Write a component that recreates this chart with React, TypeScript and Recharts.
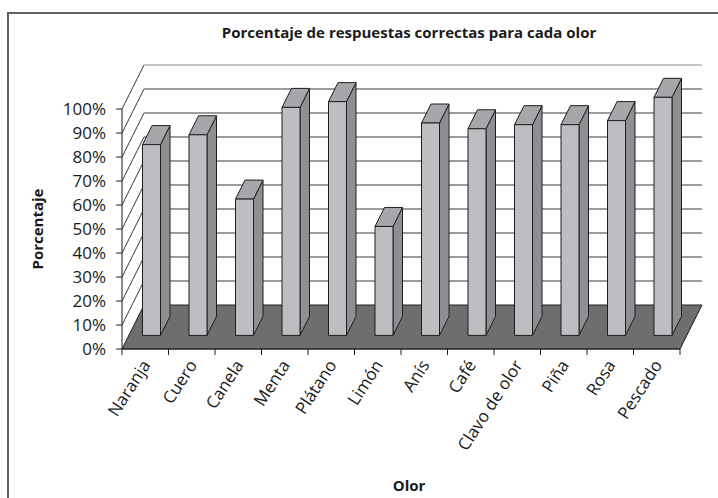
import { BarChart, Bar, XAxis, YAxis, CartesianGrid } from 'recharts'

// data (percent of correct answers per smell)
const olores = ['Naranja', 'Cuero', 'Canela', 'Menta', 'Plátano', 'Limón', 'Anís', 'Café', 'Clavo de olor', 'Piña', 'Rosa', 'Pescado']
const porcentajes = [79.5, 83.6, 56.8, 95, 97.4, 45.4, 88.5, 86.1, 87.8, 87.8, 89.5, 99.2]
const yTicks = [0, 10, 20, 30, 40, 50, 60, 70, 80, 90, 100]

const data = olores.map((olor, i) => ({ olor, valor: porcentajes[i] }))

// layout / fake-3D constants
const W = 718
const H = 498
const PLOT_LEFT = 122
const PLOT_RIGHT = 680
const PLOT_TOP = 109
const PLOT_BOTTOM = 349
const BAND = (PLOT_RIGHT - PLOT_LEFT) / olores.length
const DX = 22 // floor depth, back wall offset
const DY = 44
const FX = 6.5 // bar front face offset into the floor
const FY = -13.6
const BDX = 9.5 // bar depth
const BDY = 19

const FONT = '"Open Sans", sans-serif'
const TXT = '#1a1a1a'
const EDGE = '#1e1e1e'

function GridLine(props: any) {
  const { x1, y1, x2, y2 } = props
  if (y1 >= PLOT_BOTTOM - 0.5) {
    // floor
    const pts = `${x1},${y1} ${x2},${y2} ${x2 + DX},${y2 - DY} ${x1 + DX},${y1 - DY}`
    return <polygon points={pts} fill="#6e6e6e" stroke={EDGE} strokeWidth={1} />
  }
  const top = y1 <= PLOT_TOP + 0.5
  return (
    <g>
      <line x1={x1} y1={y1} x2={x1 + DX} y2={y1 - DY} stroke="#3a3a3a" strokeWidth={1} />
      <line x1={x1 + DX} y1={y1 - DY} x2={x2 + DX} y2={y2 - DY} stroke={top ? '#8a8a8a' : '#3a3a3a'} strokeWidth={1} />
    </g>
  )
}

function Bar3D(props: any) {
  const { x, y, width, height } = props
  if (height == null || height <= 0) return null
  const fx = x + FX
  const fy = y + FY
  const side = `${fx + width},${fy} ${fx + width + BDX},${fy - BDY} ${fx + width + BDX},${fy + height - BDY} ${fx + width},${fy + height}`
  const top = `${fx},${fy} ${fx + BDX},${fy - BDY} ${fx + width + BDX},${fy - BDY} ${fx + width},${fy}`
  return (
    <g stroke={EDGE} strokeWidth={1} strokeLinejoin="round">
      <polygon points={side} fill="#8e8f92" />
      <polygon points={top} fill="#a6a7aa" />
      <rect x={fx} y={fy} width={width} height={height} fill="#bdbec1" />
    </g>
  )
}

function XTick(props: any) {
  const { x, y, payload, index } = props
  const half = BAND / 2
  return (
    <g>
      <line x1={x - half} y1={y} x2={x - half} y2={y + 6} stroke={EDGE} />
      {index === olores.length - 1 && <line x1={x + half} y1={y} x2={x + half} y2={y + 6} stroke={EDGE} />}
      <text
        transform={`translate(${x + 6},${y + 16}) rotate(-57)`}
        textAnchor="end"
        fontFamily={FONT}
        fontSize={17}
        fill={TXT}
      >
        {payload.value}
      </text>
    </g>
  )
}

export default function App() {
  return (
    <div style={{ position: 'relative', width: W, height: H, overflow: 'hidden', background: '#fff' }}>
      <style>{'body{margin:0}'}</style>
      <div
        style={{
          position: 'absolute', left: 7, top: 12, width: W, height: H,
          borderLeft: '2px solid #606060', borderTop: '2px solid #606060',
        }}
      />
      <BarChart
        width={W}
        height={H}
        data={data}
        margin={{ top: PLOT_TOP, right: W - PLOT_RIGHT, bottom: 49, left: PLOT_LEFT - 70 }}
        style={{ position: 'absolute', left: 0, top: 0 }}
      >
        <CartesianGrid vertical={false} horizontal={GridLine} />
        <XAxis
          dataKey="olor"
          interval={0}
          height={H - PLOT_BOTTOM - 49}
          axisLine={{ stroke: EDGE }}
          tickLine={false}
          tickSize={0}
          tickMargin={0}
          tick={<XTick />}
        />
        <YAxis
          width={70}
          domain={[0, 100]}
          ticks={yTicks}
          interval={0}
          tickFormatter={v => `${v}%`}
          axisLine={{ stroke: EDGE }}
          tickLine={{ stroke: EDGE }}
          tickSize={6}
          tickMargin={10}
          tick={{ fontFamily: FONT, fontSize: 17, fill: TXT }}
        />
        <Bar dataKey="valor" barSize={18} shape={<Bar3D />} isAnimationActive={false} />
      </BarChart>
      <div
        style={{
          position: 'absolute', left: 0, width: W, top: 22, textAlign: 'center', paddingLeft: 100, boxSizing: 'border-box',
          fontFamily: FONT, fontWeight: 700, fontSize: 15, color: TXT,
        }}
      >
        Porcentaje de respuestas correctas para cada olor
      </div>
      <div
        style={{
          position: 'absolute', left: 37, top: 229, transform: 'translate(-50%, -50%) rotate(-90deg)',
          fontFamily: FONT, fontWeight: 700, fontSize: 15, color: TXT, whiteSpace: 'nowrap',
        }}
      >
        Porcentaje
      </div>
      <div
        style={{
          position: 'absolute', left: 409, top: 485, transform: 'translate(-50%, -50%)',
          fontFamily: FONT, fontWeight: 700, fontSize: 15, color: TXT,
        }}
      >
        Olor
      </div>
    </div>
  )
}
